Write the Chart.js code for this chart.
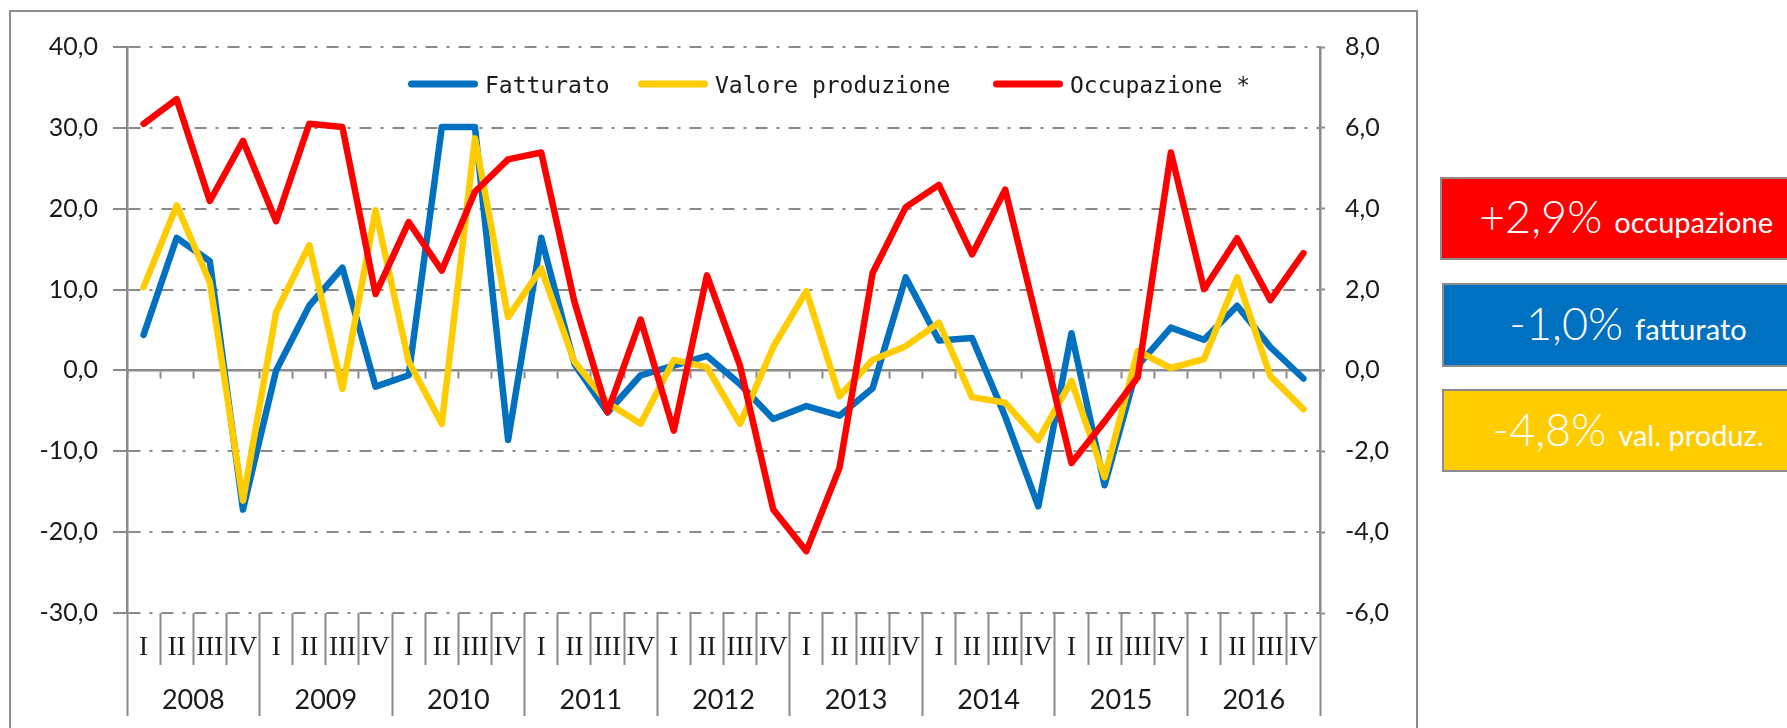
<!DOCTYPE html>
<html lang="it">
<head>
<meta charset="utf-8">
<title>Fatturato, valore produzione, occupazione</title>
<script src="https://cdn.jsdelivr.net/npm/chart.js@4.4.1/dist/chart.umd.min.js"></script>
<style>
  html, body { margin: 0; padding: 0; background: #fff; width: 1787px; height: 728px; overflow: hidden; }
  .frame { position: absolute; left: 9px; top: 10px; width: 1409px; height: 760px; border: 2px solid #8c8c8c; box-sizing: border-box; }
  .wrap { position: absolute; left: 0; top: 0; width: 1430px; height: 728px; }
  .box { position: absolute; left: 1442px; width: 372px; box-sizing: border-box; border: 2px solid #8c8c8c;
         color: #fff; font-family: Lato, "Open Sans", sans-serif; display: flex; justify-content: center;
         align-items: baseline; white-space: nowrap; line-height: 1; }
  .box .big { font-size: 45px; font-weight: 300; margin-right: 12px; }
  .box .small { font-size: 29px; font-weight: 400; }
  .red { left: 1440px; top: 177px; height: 83px; background: #ff0000; padding-top: 15px; }
  .blue { top: 283px; height: 84px; background: #0070c0; padding-top: 16px; }
  .yellow { top: 389px; height: 83px; background: #ffcc00; padding-top: 16px; }
</style>
</head>
<body>
<div class="frame"></div>
<div class="wrap"><canvas id="chart"></canvas></div>

<div class="box red"><span class="big">+2,9%</span><span class="small">occupazione</span></div>
<div class="box blue"><span class="big">-1,0%</span><span class="small">fatturato</span></div>
<div class="box yellow"><span class="big">-4,8%</span><span class="small">val. produz.</span></div>

<script>
// ===== Data
const years = ['2008', '2009', '2010', '2011', '2012', '2013', '2014', '2015', '2016'];
const quarters = ['I', 'II', 'III', 'IV'];
const categories = years.flatMap(() => quarters);

// variazioni % (asse sinistro)
const fatturato = [
  4.4, 16.4, 13.5, -17.2,
  0.0, 8.0, 12.7, -2.0,
  -0.6, 30.1, 30.1, -8.6,
  16.4, 0.8, -5.2, -0.6,
  0.6, 1.8, -1.7, -6.0,
  -4.4, -5.6, -2.2, 11.5,
  3.7, 4.0, -5.7, -16.8,
  4.6, -14.2, 0.6, 5.3,
  3.8, 8.0, 2.9, -1.0
];
const valoreProduzione = [
  10.3, 20.4, 10.9, -16.1,
  7.2, 15.5, -2.3, 19.8,
  1.1, -6.6, 28.7, 6.6,
  12.6, 1.1, -4.0, -6.6,
  1.3, 0.4, -6.6, 2.9,
  9.8, -3.2, 1.3, 3.0,
  5.9, -3.3, -4.0, -8.6,
  -1.3, -13.2, 2.4, 0.3,
  1.4, 11.5, -0.7, -4.8
];
// variazioni % (asse destro)
const occupazione = [
  6.10, 6.71, 4.19, 5.68,
  3.69, 6.10, 6.02, 1.89,
  3.67, 2.47, 4.42, 5.22,
  5.39, 1.70, -1.03, 1.26,
  -1.49, 2.35, 0.11, -3.44,
  -4.47, -2.41, 2.41, 4.04,
  4.59, 2.87, 4.47, 1.10,
  -2.29, -1.26, -0.17, 5.39,
  2.01, 3.27, 1.74, 2.90
];

// ===== Styles
const GRID = '#8a8a8a';
const TEXT = '#1a1a1a';
const BLUE = '#0070c0';
const YELLOW = '#ffcc00';
const RED = '#ff0000';
const fmt = v => v.toFixed(1).replace('.', ',');
const numFont = { family: 'Lato', size: 25 };

// legend drawn as a thick line + label inside the plot
const lineLegend = {
  id: 'lineLegend',
  afterDraw(chart, args, opts) {
    const ctx = chart.ctx;
    chart.data.datasets.forEach((ds, i) => {
      const x = opts.x[i];
      ctx.save();
      ctx.strokeStyle = ds.borderColor;
      ctx.lineWidth = 7;
      ctx.lineCap = 'round';
      ctx.beginPath();
      ctx.moveTo(x + 3.5, opts.y);
      ctx.lineTo(x + opts.len - 3.5, opts.y);
      ctx.stroke();
      ctx.fillStyle = TEXT;
      ctx.font = opts.font;
      ctx.textBaseline = 'alphabetic';
      ctx.fillText(ds.label, x + opts.len + 7, opts.y + 8.5);
      ctx.restore();
    });
  }
};

const line = (label, data, color, axis, order) => ({
  label, data, yAxisID: axis, xAxisID: 'x', order,
  borderColor: color, backgroundColor: color,
  borderWidth: 6.5, pointRadius: 0, tension: 0,
  borderJoinStyle: 'round', borderCapStyle: 'round'
});

new Chart(document.getElementById('chart'), {
  type: 'line',
  data: {
    labels: categories,
    datasets: [
      line('Fatturato', fatturato, BLUE, 'y', 3),
      line('Valore produzione', valoreProduzione, YELLOW, 'y', 2),
      line('Occupazione *', occupazione, RED, 'y2', 1)
    ]
  },
  plugins: [lineLegend],
  options: {
    responsive: true,
    maintainAspectRatio: false,
    animation: false,
    layout: { padding: { top: 47, left: 0, right: 0, bottom: 0 } },
    plugins: {
      legend: { display: false },
      tooltip: { enabled: false },
      lineLegend: { x: [408, 638, 993], y: 84, len: 70, font: '23px "DejaVu Sans Mono"' }
    },
    scales: {
      // quarters, with separators below the plot
      x: {
        type: 'category', position: 'bottom', weight: 0, offset: true,
        grid: { offset: true, drawOnChartArea: false, tickLength: 52, tickColor: GRID, tickWidth: 2 },
        border: { display: false },
        ticks: { padding: -33, autoSkip: false, maxRotation: 0, color: TEXT,
                 font: { family: '"Liberation Serif", "DejaVu Serif", serif', size: 27 } },
        afterFit: s => { s.height = 52; }
      },
      // years
      x2: {
        type: 'category', labels: years, position: 'bottom', weight: 1, offset: true,
        grid: { offset: true, drawOnChartArea: false, tickLength: 51, tickColor: GRID, tickWidth: 2 },
        border: { display: false },
        ticks: { padding: -32, autoSkip: false, maxRotation: 0, color: TEXT, font: { family: 'Lato', size: 27 } },
        afterFit: s => { s.height = 63; }
      },
      // solid zero line with small ticks
      x3: {
        type: 'category', position: { y: 0 }, offset: true,
        grid: { offset: true, drawOnChartArea: false, tickLength: 7, tickColor: GRID, tickWidth: 2 },
        border: { color: GRID, width: 2.5 },
        ticks: { display: false },
        afterFit: s => { s.height = 0; }
      },
      y: {
        position: 'left', min: -30, max: 40,
        ticks: { stepSize: 10, padding: 15, color: TEXT, font: numFont, callback: fmt },
        grid: { color: GRID, lineWidth: 2, tickLength: 14, tickColor: GRID, tickWidth: 2 },
        border: { color: GRID, width: 2.5, dash: [12, 9, 3, 9] },
        afterFit: s => { s.width = 127; }
      },
      y2: {
        position: 'right', min: -6, max: 8,
        ticks: { stepSize: 2, padding: 20, color: TEXT, font: numFont, callback: fmt },
        grid: { drawOnChartArea: false, tickLength: 5, tickColor: GRID, tickWidth: 2 },
        border: { color: GRID, width: 2.5 },
        afterFit: s => { s.width = 110; }
      }
    }
  }
});
</script>
</body>
</html>
